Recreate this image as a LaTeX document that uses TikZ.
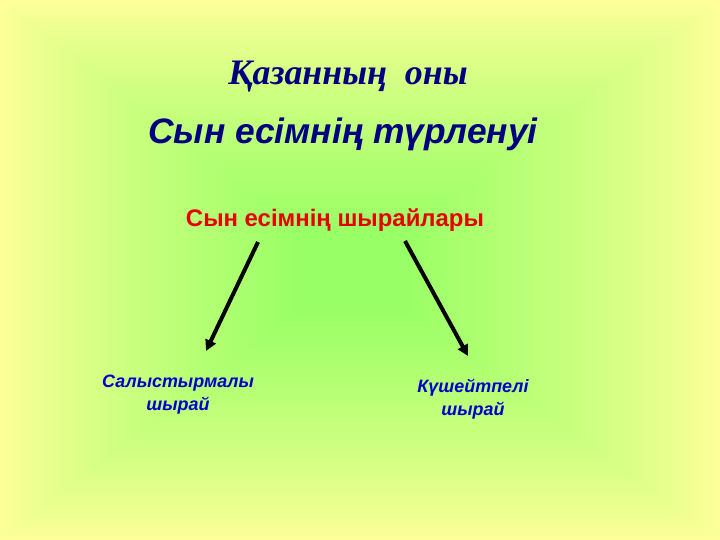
\documentclass[tikz,border=0pt]{standalone}
\usepackage{fontspec}
\setmainfont{Liberation Serif}
\setsansfont{Liberation Sans}
\usetikzlibrary{arrows.meta}
\definecolor{edgeY}{RGB}{255,255,153}
\definecolor{cenG}{RGB}{153,255,102}
\definecolor{navy}{RGB}{0,0,128}
\definecolor{lblue}{RGB}{0,0,204}
\definecolor{tred}{RGB}{230,0,0}
\tikzset{
  title1/.style={font=\rmfamily\bfseries\itshape\fontsize{36}{40}\selectfont, text=navy, inner sep=0pt, anchor=base},
  title2/.style={font=\sffamily\bfseries\itshape\fontsize{35.5}{40}\selectfont, text=navy, inner sep=0pt, anchor=base},
  redtxt/.style={font=\sffamily\bfseries\fontsize{24}{28}\selectfont, text=tred, inner sep=0pt, anchor=base},
  lbl/.style={font=\sffamily\bfseries\itshape\fontsize{18}{22.5}\selectfont, text=lblue, inner sep=0pt, align=center, anchor=base},
  arr/.style={line width=4bp, -{Triangle[length=11bp,width=11bp]}, black}
}
\begin{document}
\begin{tikzpicture}[x=1bp,y=-1bp]
\useasboundingbox (0,0) rectangle (720,540);
\foreach \i in {0,...,59}{
  \pgfmathsetmacro\s{1-0.85*\i/59}
  \pgfmathsetmacro\p{100*(\i/59)^0.8}
  \fill[cenG!\p!edgeY] ({350-350*\s},{270-270*\s}) rectangle ({350+370*\s},{270+270*\s});
}
\node[title1] (t1) at (348,85) {Қазанның\ \ оны};
\node[title2] (t2) at (343,144) {Сын есімнің түрленуі};
\node[redtxt] (red) at (335,227) {Сын есімнің шырайлары};
\node[lbl] (sal) at (178,410) {Салыстырмалы\\шырай};
\node[lbl] (kus) at (473,415) {Күшейтпелі\\шырай};
\coordinate (ls) at (258,242);
\coordinate (le) at (206,351);
\coordinate (rs) at (405,241);
\coordinate (re) at (468,356);
\draw[arr] (ls) -- (le);
\draw[arr] (rs) -- (re);
\end{tikzpicture}
\end{document}
